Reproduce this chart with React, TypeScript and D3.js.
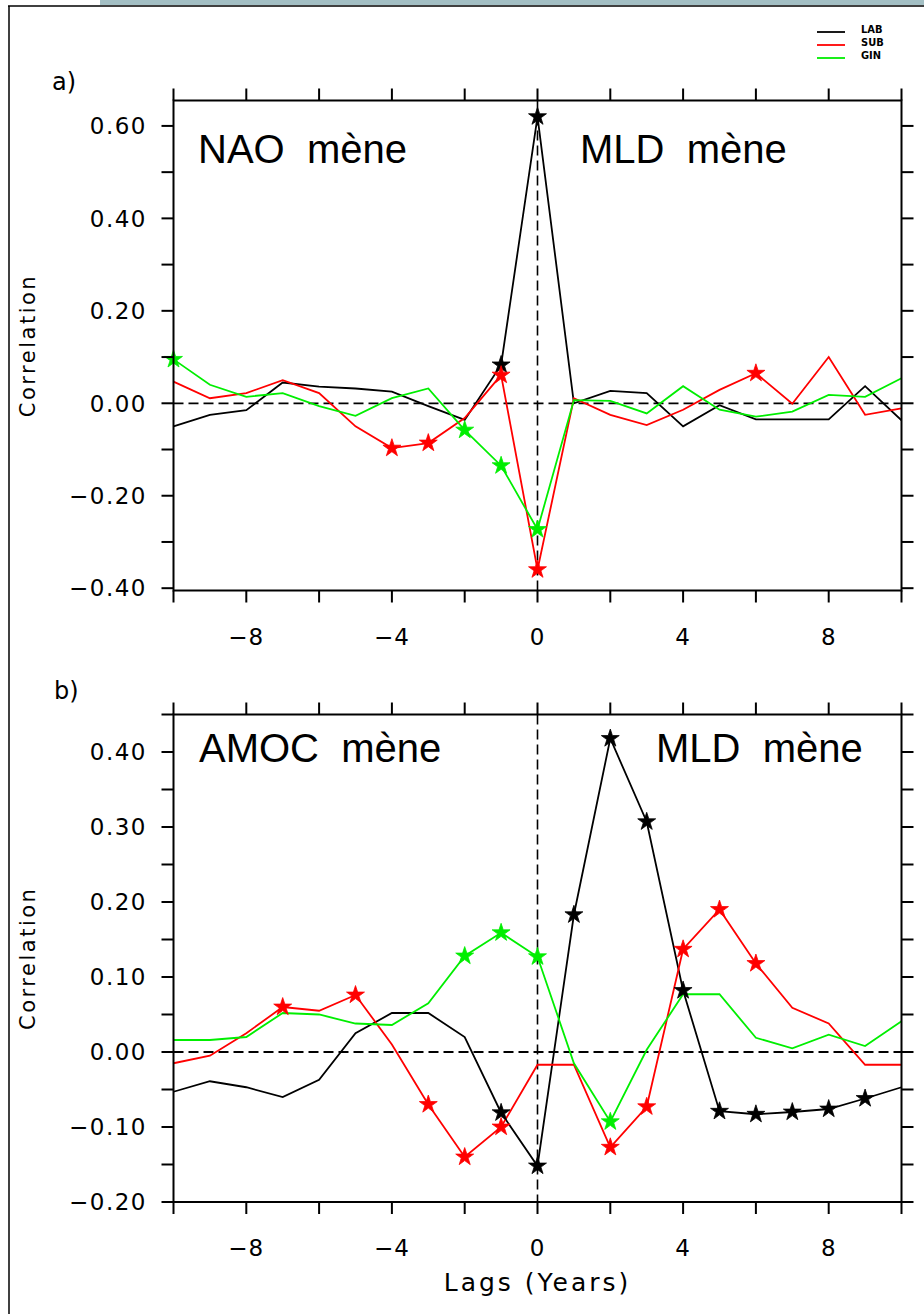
import React from 'react';
import * as d3 from 'd3';

// ---- data ----
const lags = [-10, -9, -8, -7, -6, -5, -4, -3, -2, -1, 0, 1, 2, 3, 4, 5, 6, 7, 8, 9, 10];
const xTicks = [-10, -8, -6, -4, -2, 0, 2, 4, 6, 8, 10];
const xTickLabels = [-8, -4, 0, 4, 8];

const seriesNames = ['LAB', 'SUB', 'GIN'];
const seriesColors = ['#000000', '#ff0000', '#00ee00'];

// Panel a) NAO vs MLD
const aLAB = [-0.05, -0.025, -0.015, 0.045, 0.036, 0.032, 0.025, -0.006, -0.036, 0.083, 0.62, 0.0, 0.027, 0.022, -0.05, -0.004, -0.035, -0.035, -0.035, 0.037, -0.037];
const aSUB = [0.047, 0.011, 0.022, 0.05, 0.022, -0.05, -0.097, -0.086, -0.032, 0.061, -0.36, 0.011, -0.025, -0.047, -0.014, 0.029, 0.065, -0.001, 0.1, -0.025, -0.011];
const aGIN = [0.095, 0.04, 0.014, 0.022, -0.006, -0.027, 0.011, 0.032, -0.058, -0.135, -0.273, 0.007, 0.005, -0.022, 0.037, -0.014, -0.029, -0.018, 0.018, 0.014, 0.054];
const aStarsLAB = [-1, 0];
const aStarsSUB = [-4, -3, -1, 0, 6];
const aStarsGIN = [-10, -2, -1, 0];
const aYTicks = [-0.4, -0.3, -0.2, -0.1, 0, 0.1, 0.2, 0.3, 0.4, 0.5, 0.6];
const aYLabels = [-0.4, -0.2, 0, 0.2, 0.4, 0.6];

// Panel b) AMOC vs MLD
const bLAB = [-0.053, -0.039, -0.047, -0.06, -0.037, 0.025, 0.052, 0.052, 0.02, -0.081, -0.152, 0.183, 0.418, 0.307, 0.082, -0.079, -0.083, -0.08, -0.076, -0.062, -0.047];
const bSUB = [-0.015, -0.005, 0.025, 0.06, 0.055, 0.076, 0.01, -0.07, -0.14, -0.1, -0.017, -0.017, -0.127, -0.073, 0.137, 0.19, 0.118, 0.059, 0.038, -0.017, -0.017];
const bGIN = [0.016, 0.016, 0.02, 0.052, 0.05, 0.038, 0.036, 0.065, 0.128, 0.159, 0.127, -0.015, -0.093, 0.003, 0.077, 0.077, 0.019, 0.005, 0.023, 0.008, 0.041];
const bStarsLAB = [-1, 0, 1, 2, 3, 4, 5, 6, 7, 8, 9];
const bStarsSUB = [-7, -5, -3, -2, -1, 2, 3, 4, 5, 6];
const bStarsGIN = [-2, -1, 0, 2];
const bYTicks = [-0.2, -0.15, -0.1, -0.05, 0, 0.05, 0.1, 0.15, 0.2, 0.25, 0.3, 0.35, 0.4, 0.45];
const bYLabels = [-0.2, -0.1, 0, 0.1, 0.2, 0.3, 0.4];

const PLOT_LEFT = 173.5;
const PLOT_RIGHT = 901.5;
const TICK = 12;
const tickFont = 'DejaVu Sans';

const fmt = (v: number) => (v < -1e-9 ? '\u2212' : '') + Math.abs(v).toFixed(2);
const fmtX = (v: number) => (v < 0 ? '\u2212' : '') + Math.abs(v);

const starPath = d3.symbol(d3.symbolStar, 100)() as string;

type PanelProps = {
  yDomain: [number, number];
  yRange: [number, number];
  yTicks: number[];
  yLabels: number[];
  data: number[][];
  stars: number[][];
  letter: string;
  letterPos: [number, number];
  notes: { text: string; x: number; y: number }[];
  id: string;
};

function Panel(p: PanelProps) {
  const x = d3.scaleLinear().domain([-10, 10]).range([PLOT_LEFT, PLOT_RIGHT]);
  const y = d3.scaleLinear().domain(p.yDomain).range(p.yRange);
  const top = p.yRange[1];
  const bottom = p.yRange[0];
  const line = d3
    .line<number>()
    .x((_, i) => x(lags[i]))
    .y((d) => y(d));
  const midY = (top + bottom) / 2;
  return (
    <g>
      <defs>
        <clipPath id={'clip' + p.id}>
          <rect x={PLOT_LEFT} y={top} width={PLOT_RIGHT - PLOT_LEFT} height={bottom - top} />
        </clipPath>
      </defs>
      <text x={p.letterPos[0]} y={p.letterPos[1]} fontFamily={tickFont} fontSize={24}>
        {p.letter}
      </text>
      <text
        transform={`translate(35,${midY}) rotate(-90)`}
        textAnchor="middle"
        fontFamily={tickFont}
        fontSize={21}
        letterSpacing={2.5}
      >
        Correlation
      </text>
      <line x1={PLOT_LEFT} x2={PLOT_RIGHT} y1={y(0)} y2={y(0)} stroke="#000" strokeWidth={1.8} strokeDasharray="10,5" />
      <line x1={x(0)} x2={x(0)} y1={top} y2={bottom} stroke="#000" strokeWidth={1.6} strokeDasharray="10,5" />
      {p.notes.map((n, i) => (
        <text key={i} x={n.x} y={n.y} fontFamily="Liberation Sans, Arial" fontSize={40} style={{ whiteSpace: 'pre' }}>
          {n.text}
        </text>
      ))}
      <g clipPath={`url(#clip${p.id})`}>
        {p.data.map((d, si) => (
          <path key={si} d={line(d) as string} fill="none" stroke={seriesColors[si]} strokeWidth={1.8} />
        ))}
      </g>
      {p.stars.map((s, si) =>
        s.map((lag) => {
          const i = lags.indexOf(lag);
          return (
            <path
              key={si + '_' + lag}
              d={starPath}
              transform={`translate(${x(lag)},${y(p.data[si][i])})`}
              fill={seriesColors[si]}
              stroke={seriesColors[si]}
              strokeWidth={0.8}
            />
          );
        })
      )}
      <rect x={PLOT_LEFT} y={top} width={PLOT_RIGHT - PLOT_LEFT} height={bottom - top} fill="none" stroke="#000" strokeWidth={2} />
      {xTicks.map((t) => (
        <g key={'xt' + t}>
          <line x1={x(t)} x2={x(t)} y1={bottom} y2={bottom + TICK} stroke="#000" strokeWidth={2} />
          <line x1={x(t)} x2={x(t)} y1={top} y2={top - TICK} stroke="#000" strokeWidth={2} />
        </g>
      ))}
      {xTickLabels.map((t) => (
        <text key={'xl' + t} x={x(t)} y={bottom + 54} textAnchor="middle" fontFamily={tickFont} fontSize={23} letterSpacing={1}>
          {fmtX(t)}
        </text>
      ))}
      {p.yTicks.map((t) => (
        <g key={'yt' + t}>
          <line x1={PLOT_LEFT - TICK} x2={PLOT_LEFT} y1={y(t)} y2={y(t)} stroke="#000" strokeWidth={2} />
          <line x1={PLOT_RIGHT} x2={PLOT_RIGHT + TICK} y1={y(t)} y2={y(t)} stroke="#000" strokeWidth={2} />
        </g>
      ))}
      {p.yLabels.map((t) => (
        <text key={'yl' + t} x={147} y={y(t)} dy="0.36em" textAnchor="end" fontFamily={tickFont} fontSize={23} letterSpacing={1.5}>
          {fmt(t)}
        </text>
      ))}
    </g>
  );
}

export default function App() {
  return (
    <svg width={924} height={1314} style={{ position: 'absolute', left: 0, top: 0, background: '#fff' }}>
      <rect x={0} y={0} width={924} height={1314} fill="#fff" />
      <rect x={100} y={0} width={824} height={5} fill="#a3bfc4" />
      <line x1={8} x2={924} y1={6} y2={6} stroke="#000" strokeWidth={1.5} />
      <line x1={9} x2={9} y1={6} y2={1314} stroke="#000" strokeWidth={1.5} />
      {seriesNames.map((n, i) => (
        <g key={n}>
          <line x1={817} x2={845} y1={32 + i * 13} y2={32 + i * 13} stroke={seriesColors[i]} strokeWidth={1.8} />
          <text x={861} y={32 + i * 13 + 1} fontFamily="DejaVu Sans Condensed, DejaVu Sans" fontWeight="bold" fontSize={11}>
            {n}
          </text>
        </g>
      ))}
      <Panel
        id="a"
        yDomain={[-0.405, 0.655]}
        yRange={[590.5, 100.5]}
        yTicks={aYTicks}
        yLabels={aYLabels}
        data={[aLAB, aSUB, aGIN]}
        stars={[aStarsLAB, aStarsSUB, aStarsGIN]}
        letter="a)"
        letterPos={[52, 90]}
        notes={[
          { text: 'NAO  m\u00e8ne', x: 198, y: 163 },
          { text: 'MLD  m\u00e8ne', x: 580, y: 163 },
        ]}
      />
      <Panel
        id="b"
        yDomain={[-0.2, 0.45]}
        yRange={[1202, 714.5]}
        yTicks={bYTicks}
        yLabels={bYLabels}
        data={[bLAB, bSUB, bGIN]}
        stars={[bStarsLAB, bStarsSUB, bStarsGIN]}
        letter="b)"
        letterPos={[54, 699]}
        notes={[
          { text: 'AMOC  m\u00e8ne', x: 199, y: 762 },
          { text: 'MLD  m\u00e8ne', x: 656, y: 762 },
        ]}
      />
      <text x={537.5} y={1291} textAnchor="middle" fontFamily={tickFont} fontSize={25} letterSpacing={3}>
        Lags (Years)
      </text>
    </svg>
  );
}
